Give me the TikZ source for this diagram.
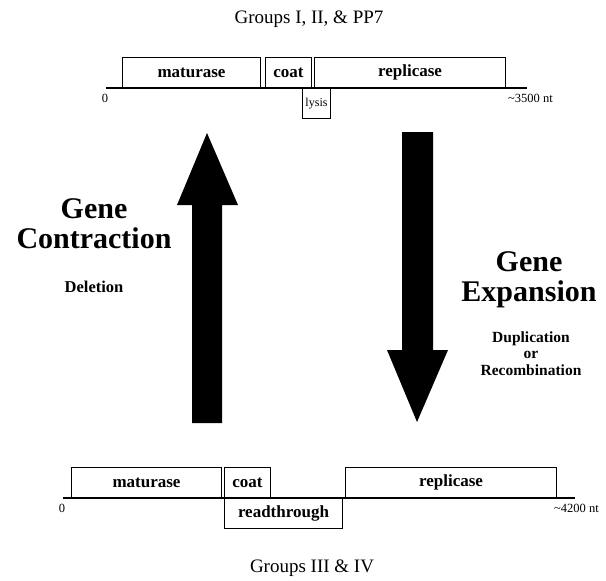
\documentclass[tikz,border=0pt]{standalone}
\usepackage{fontspec}
\setmainfont{Liberation Serif}
\tikzset{
  gene/.style={draw,line width=1pt,anchor=south west,inner sep=0pt,minimum height=30pt,
    font=\fontsize{17}{18}\selectfont\bfseries},
  under/.style={gene,anchor=north west},
  small/.style={font=\fontsize{12.5}{13}\selectfont,inner sep=0pt},
  title/.style={font=\fontsize{19}{22}\selectfont,anchor=base,inner sep=0pt},
  big/.style={font=\fontsize{30}{30}\selectfont\bfseries,anchor=base,inner sep=0pt},
  note/.style={font=\fontsize{15.5}{16}\selectfont\bfseries,anchor=base,inner sep=0pt},
  bigarrow/.style={fill=black}
}
\begin{document}
\begin{tikzpicture}[x=1pt,y=-1pt]
\useasboundingbox (0,0) rectangle (606,581);
% groups I, II & PP7
\node[title] (titleA) at (309,23) {Groups I, II, \& PP7};
\coordinate (startA) at (106,88);
\coordinate (endA) at (527,88);
\draw[line width=1.2pt] (startA) -- (endA);
\node[gene,minimum width=138pt] (matA) at (122,88) {maturase};
\node[gene,minimum width=46pt] (coatA) at (265,88) {coat};
\node[gene,minimum width=191pt] (repA) at (314,88) {replicase};
\node[under,minimum width=28pt,font=\fontsize{12}{12}\selectfont] (lysA) at (302,88) {lysis};
\node[small,anchor=north] (zeroA) at (105,94) {0};
\node[small,anchor=north west] (lenA) at (508,94) {\textasciitilde3500 nt};
% arrows
\fill[bigarrow] (192,423) -- (192,205) -- (177,205) -- (207,133) -- (238,205) -- (222,205) -- (222,423) -- cycle;
\fill[bigarrow] (402,132) -- (402,350) -- (387,350) -- (417,422) -- (448,350) -- (433,350) -- (433,132) -- cycle;
\node[big] (geneL) at (94,218) {Gene};
\node[big] (contr) at (94,248) {Contraction};
\node[note,font=\fontsize{16.5}{17}\selectfont\bfseries] (delet) at (94,292) {Deletion};
\node[big] (geneR) at (529,271) {Gene};
\node[big] (expan) at (529,301) {Expansion};
\node[note] (dupl) at (531,342) {Duplication};
\node[note] (orR) at (531,358) {or};
\node[note] (recomb) at (531,375) {Recombination};
% groups III & IV
\coordinate (startB) at (63,498);
\coordinate (endB) at (575,498);
\draw[line width=1.2pt] (startB) -- (endB);
\node[gene,minimum width=150pt] (matB) at (71,498) {maturase};
\node[gene,minimum width=46pt] (coatB) at (224,498) {coat};
\node[under,minimum width=118pt] (rtB) at (224,498) {readthrough};
\node[gene,minimum width=211pt] (repB) at (345,498) {replicase};
\node[small,anchor=north] (zeroB) at (62,504) {0};
\node[small,anchor=north west] (lenB) at (554,504) {\textasciitilde4200 nt};
\node[title] (titleB) at (312,572) {Groups III \& IV};
\end{tikzpicture}
\end{document}
